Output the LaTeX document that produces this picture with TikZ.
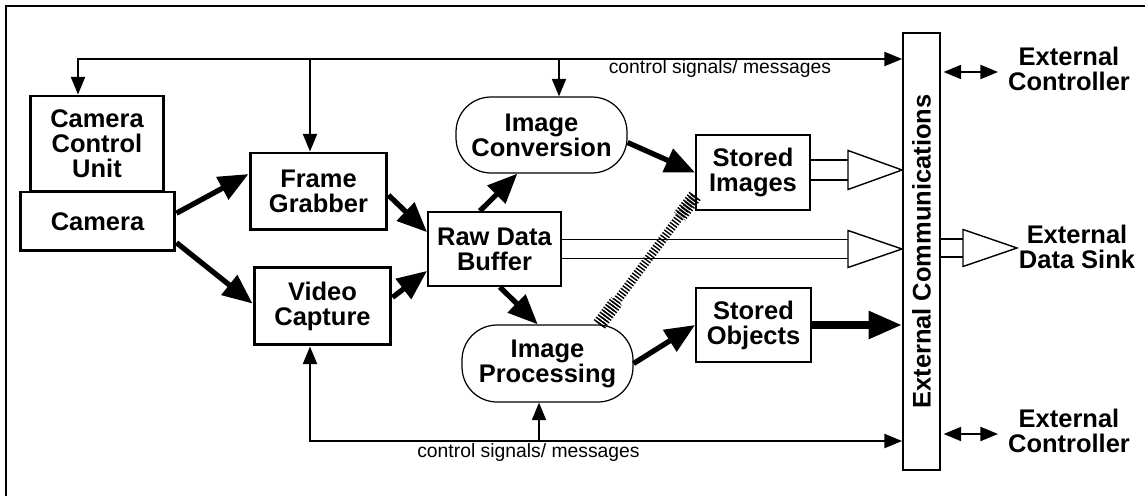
\documentclass[tikz,border=0pt]{standalone}
\usepackage{fontspec}
\setmainfont{Liberation Sans}
\usetikzlibrary{arrows.meta,calc}

\begin{document}
\begin{tikzpicture}[
  x=0.02cm, y=-0.02cm,
  >={Triangle[length=10pt,width=8pt]},
  every node/.style={inner sep=0pt, align=center, font=\fontsize{14.5}{14.2}\selectfont\bfseries},
  heavybox/.style={rectangle, draw, line width=1.7pt},
  lightbox/.style={rectangle, draw, line width=1.1pt},
  oval/.style={rectangle, draw, line width=0.7pt, rounded corners=0.7cm, minimum width=3.42cm},
  small/.style={font=\fontsize{11}{13}\selectfont},
  frame/.style={draw, line width=1.1pt},
  ctrl/.style={draw, line width=1pt},
  flow/.style={draw, line width=3pt, -{Triangle[length=17pt,width=14pt]}},
  bigflow/.style={draw, line width=4.2pt, -{Triangle[length=19pt,width=15pt]}},
  rail/.style={draw, line width=1pt},
  funnel/.style={draw, line width=0.8pt, fill=white, line join=miter},
  hatch/.style={draw, line width=5pt, dash pattern=on 0.8pt off 1pt},
  hatchend/.style={draw, line width=8pt, dash pattern=on 0.8pt off 1pt}]

  \useasboundingbox (0,0) rectangle (1145,496);

  % --- outer frame (only top and left edges show) ---
  \draw[frame] (6,496) -- (6,6) -- (1145,6);

  % --- camera side ---
  \node[heavybox, minimum width=2.68cm, minimum height=1.92cm] (ccu) at (97,144) {Camera\\Control\\Unit};
  \node[heavybox, minimum width=3.1cm, minimum height=1.18cm] (cam) at (97.5,221.5) {Camera};
  \node[heavybox, minimum width=2.74cm, minimum height=1.54cm] (fg) at (318.5,191.5) {Frame\\Grabber};
  \node[heavybox, minimum width=2.74cm, minimum height=1.56cm] (vc) at (322.5,306) {Video\\Capture};

  % --- buffer and processing ---
  \node[lightbox, minimum width=2.66cm, minimum height=1.48cm] (raw) at (494.5,249) {Raw Data\\Buffer};
  \node[oval, minimum height=1.52cm] (conv) at (541.5,135) {Image\\Conversion};
  \node[oval, minimum height=1.54cm] (imgproc) at (547.5,363.5) {Image\\Processing};
  \node[lightbox, minimum width=2.28cm, minimum height=1.5cm] (simg) at (753,172.5) {Stored\\Images};
  \node[lightbox, minimum width=2.3cm, minimum height=1.48cm] (sobj) at (753.5,325) {Stored\\Objects};

  % --- communications bar and outside world ---
  \node[lightbox, minimum width=0.74cm, minimum height=8.74cm] (ext) at (921.5,251.5) {};
  \node[rotate=90] (extlbl) at (ext.center) {External Communications};
  \node (ctrlup) at (1069,68.5) {External\\Controller};
  \node (ctrldn) at (1069,430.5) {External\\Controller};
  \node (sink) at (1077,246.5) {External\\Data Sink};

  % --- control buses ---
  \coordinate (busA) at (78,59);
  \coordinate (fgtap) at (310,59);
  \coordinate (convtap) at (559,59);
  \draw[ctrl, <->] (busA |- ccu.north) -- (busA) -- (busA -| ext.west);
  \draw[ctrl, ->] (fgtap) -- (fgtap |- fg.north);
  \draw[ctrl, ->] (convtap) -- (convtap |- conv.north);
  \node[small] (ctlA) at (720,69) {control signals/ messages};

  \coordinate (busB) at (310,441);
  \coordinate (proctap) at (539,441);
  \draw[ctrl, <->] (vc.south -| busB) -- (busB) -- (busB -| ext.west);
  \draw[ctrl, ->] (proctap) -- (proctap |- imgproc.south);
  \node[small] (ctlB) at (528.5,452) {control signals/ messages};

  % --- data flow ---
  \draw[flow] (cam.6) -- (fg.166);
  \draw[flow] (cam.-15) -- (vc.178);
  \draw[flow] (fg.-3) -- (raw.166);
  \draw[flow] (vc.7) -- (raw.198);
  \draw[flow] (raw.111) -- (conv.238);
  \draw[flow] (raw.-82) -- (imgproc.104);
  \draw[flow] (conv.-5) -- (simg.west);
  \draw[flow] (imgproc.east) -- (sobj.west);
  \draw[bigflow] (sobj.east) -- (sobj.east -| ext.west);

  % --- hatched link processing / stored images ---
  \draw[hatch] (imgproc.37) -- (simg.202);
  \draw[hatchend] (imgproc.37) -- ($(imgproc.37)!0.18!(simg.202)$);
  \draw[hatchend] (simg.202) -- ($(simg.202)!0.16!(imgproc.37)$);

  % --- bulk transfers, open funnels ---
  \coordinate (imgtri) at (848,170);
  \coordinate (imgrailA) at ($(imgtri)+(0,-10)$);
  \coordinate (imgrailB) at ($(imgtri)+(0,10)$);
  \draw[rail] (imgrailA -| simg.east) -- (imgrailA);
  \draw[rail] (imgrailB -| simg.east) -- (imgrailB);
  \draw[funnel] ($(imgtri)+(0,-19.5)$) -- (imgtri -| ext.west) -- ($(imgtri)+(0,19.5)$) -- cycle;

  \coordinate (rawtri) at (848,249);
  \coordinate (rawrailA) at ($(rawtri)+(0,-9.5)$);
  \coordinate (rawrailB) at ($(rawtri)+(0,9.5)$);
  \draw[rail] (rawrailA -| raw.east) -- (rawrailA);
  \draw[rail] (rawrailB -| raw.east) -- (rawrailB);
  \draw[funnel] ($(rawtri)+(0,-18.5)$) -- (rawtri -| ext.west) -- ($(rawtri)+(0,18.5)$) -- cycle;

  \coordinate (sinktri) at (963,248);
  \coordinate (sinktip) at (1017,248);
  \coordinate (sinkrailA) at ($(sinktri)+(0,-9)$);
  \coordinate (sinkrailB) at ($(sinktri)+(0,9)$);
  \draw[rail] (sinkrailA -| ext.east) -- (sinkrailA);
  \draw[rail] (sinkrailB -| ext.east) -- (sinkrailB);
  \draw[funnel] ($(sinktri)+(0,-18.5)$) -- (sinktip) -- ($(sinktri)+(0,18.5)$) -- cycle;

  % --- links to the external controllers ---
  \coordinate (dupA) at (998,72);
  \coordinate (dupB) at (998,434);
  \draw[ctrl, <->, shorten <=1.5pt] (dupA -| ext.east) -- (dupA);
  \draw[ctrl, <->, shorten <=1.5pt] (dupB -| ext.east) -- (dupB);

\end{tikzpicture}
\end{document}
